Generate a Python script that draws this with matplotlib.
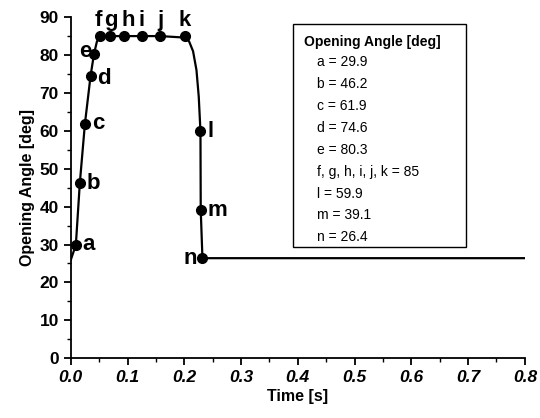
import matplotlib.pyplot as plt
from matplotlib.ticker import MultipleLocator

plt.rcParams['font.family'] = ['Liberation Sans', 'DejaVu Sans']

# measured points
labels = ['a', 'b', 'c', 'd', 'e', 'f', 'g', 'h', 'i', 'j', 'k', 'l', 'm', 'n']
t_pts = [0.009, 0.016, 0.025, 0.035, 0.041, 0.051, 0.070, 0.094, 0.125, 0.158, 0.201, 0.2285, 0.229, 0.232]
ang_pts = [29.9, 46.2, 61.9, 74.6, 80.3, 85, 85, 85, 85, 85, 85, 59.9, 39.1, 26.4]

# traced curve through the points
curve_t = [0.0, 0.009, 0.016, 0.025, 0.035, 0.041, 0.046, 0.051, 0.070, 0.094, 0.125, 0.158,
           0.201, 0.2085, 0.2155, 0.2215, 0.2255, 0.2285, 0.229, 0.232, 0.8]
curve_ang = [25.9, 29.9, 46.2, 61.9, 74.6, 80.3, 83.5, 85, 85, 85, 85, 85,
             84.6, 83.6, 81.0, 76.0, 69.0, 59.9, 39.1, 26.4, 26.4]

box_title = 'Opening Angle [deg]'
legend_lines = ['a = 29.9', 'b = 46.2', 'c = 61.9', 'd = 74.6', 'e = 80.3',
                'f, g, h, i, j, k = 85', 'l = 59.9', 'm = 39.1', 'n = 26.4']

fig = plt.figure(figsize=(5.4, 4.18), dpi=100)
ax = fig.add_axes([0.131, 0.143, 0.841, 0.816])

ax.plot(curve_t, curve_ang, color='black', lw=1.6)
ax.plot(t_pts, ang_pts, 'o', color='black', ms=7)

# label offsets (points)
offs = {'a': (5, 0, 'left'), 'b': (5, 0, 'left'), 'c': (5, 0, 'left'), 'd': (5, -2, 'left'),
        'e': (-2, 2, 'right'), 'l': (5, 0, 'left'), 'm': (5, 0, 'left'), 'n': (-4, 0, 'right')}
top_x = {'f': -1, 'g': 0, 'h': 3, 'i': 0, 'j': 0, 'k': 0}
for lab, t, y in zip(labels, t_pts, ang_pts):
    if lab in offs:
        dx, dy, ha = offs[lab]
        ax.annotate(lab, (t, y), xytext=(dx, dy), textcoords='offset points',
                    ha=ha, va='center', fontsize=16, fontweight='bold')
    else:
        ax.annotate(lab, (t, y), xytext=(top_x[lab], 4), textcoords='offset points',
                    ha='center', va='bottom', fontsize=16, fontweight='bold')

ax.set_xlim(0, 0.8)
ax.set_ylim(0, 90)
ax.xaxis.set_major_locator(MultipleLocator(0.1))
ax.xaxis.set_minor_locator(MultipleLocator(0.05))
ax.yaxis.set_major_locator(MultipleLocator(10))
ax.yaxis.set_minor_locator(MultipleLocator(5))
ax.spines['top'].set_visible(False)
ax.spines['right'].set_visible(False)
ax.spines['left'].set_linewidth(1.3)
ax.spines['bottom'].set_linewidth(1.3)
ax.tick_params(which='major', length=5, width=1.3, labelsize=12.5)
ax.tick_params(which='minor', length=3, width=1)
for tl in ax.get_xticklabels():
    tl.set_fontweight('bold')
    tl.set_fontstyle('italic')
for tl in ax.get_yticklabels():
    tl.set_fontweight('bold')
ax.set_xlabel('Time [s]', fontsize=11.5, fontweight='bold', labelpad=3)
ax.set_ylabel('Opening Angle [deg]', fontsize=11.5, fontweight='bold', labelpad=3)

# info box
ax.add_patch(plt.Rectangle((0.489, 0.326), 0.381, 0.653, transform=ax.transAxes,
                           fill=False, edgecolor='black', lw=1.0))
ax.text(0.513, 0.927, box_title, transform=ax.transAxes, ha='left', va='center',
        fontsize=10, fontweight='bold')
ax.text(0.542, 0.889, '\n'.join(legend_lines), transform=ax.transAxes, ha='left', va='top',
        fontsize=10, linespacing=1.72)

fig.savefig('out.png', dpi=100)
